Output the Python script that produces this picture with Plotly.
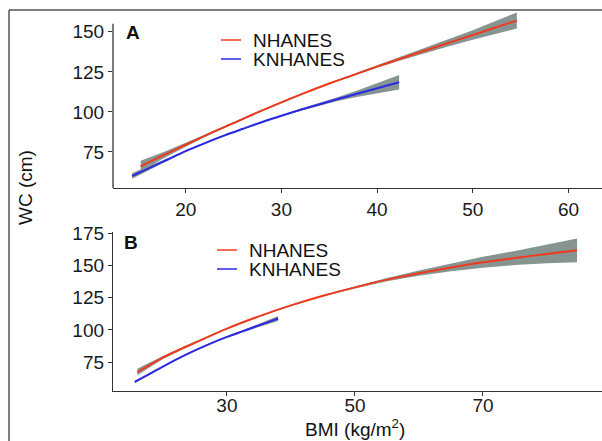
import plotly.graph_objects as go

# ---------------- data ----------------
# Panel A
bmi_a_nh = [15.3, 17.5, 20, 22.5, 25, 27.5, 30, 32.5, 35, 37.5, 40, 42.5, 45, 47.5, 50, 52.5, 54.6]
wc_a_nh = [66, 72.5, 79.5, 86.5, 93, 99.7, 106, 112, 117.7, 123, 128.3, 133.3, 138.3, 143.2, 148, 153, 157]
se_a_nh = [3.5, 2, 1.2, 0.8, 0.6, 0.5, 0.5, 0.5, 0.5, 0.6, 0.8, 1.1, 1.6, 2.2, 3, 4, 5]

bmi_a_kn = [14.4, 16, 18, 20, 22, 24, 26, 28, 30, 32, 34, 36, 38, 40, 42.3]
wc_a_kn = [60, 64.5, 70, 75.5, 80.5, 85.2, 89.5, 93.7, 97.6, 101.3, 104.8, 108.2, 111.5, 114.8, 118.5]
se_a_kn = [1.8, 1.2, 0.8, 0.6, 0.5, 0.5, 0.5, 0.5, 0.5, 0.6, 0.8, 1.2, 2, 3, 4.5]

# Panel B
bmi_b_nh = [16, 20, 25, 30, 35, 40, 45, 50, 55, 60, 65, 70, 75, 80, 84.7]
wc_b_nh = [67.2, 78.5, 90, 101, 110.5, 119, 126.5, 133, 139, 144, 148.5, 152.5, 155.8, 159, 161.8]
se_b_nh = [2.5, 1.2, 0.7, 0.5, 0.5, 0.5, 0.6, 0.8, 1.2, 2, 3, 4.2, 5.5, 7.2, 9.2]

bmi_b_kn = [15.6, 18, 20, 22.5, 25, 27.5, 30, 32.5, 35, 38]
wc_b_kn = [59.5, 66, 71.5, 78, 84, 89.5, 94.5, 99, 103.5, 108.8]
se_b_kn = [1, 0.7, 0.5, 0.5, 0.5, 0.5, 0.6, 0.8, 1.2, 2]

series_names = ["NHANES", "KNHANES"]
x_ticks_a = [20, 30, 40, 50, 60]
y_ticks_a = [75, 100, 125, 150]
x_ticks_b = [30, 50, 70]
y_ticks_b = [75, 100, 125, 150, 175]

RED = "#f03a1e"
BLUE = "#2a2ae6"
GREY = "#879592"
FONT = "Liberation Sans, Arial, sans-serif"
FS = 19

W, H = 602, 441


def px_x(p):
    return p / W


def px_y(p):
    return 1 - p / H


fig = go.Figure()


def ribbon(x, y, se, xa, ya):
    lo = [v - s for v, s in zip(y, se)]
    hi = [v + s for v, s in zip(y, se)]
    fig.add_trace(go.Scatter(
        x=list(x) + list(x)[::-1], y=hi + lo[::-1],
        fill="toself", fillcolor=GREY, line=dict(width=0),
        mode="lines", showlegend=False, hoverinfo="skip",
        xaxis=xa, yaxis=ya))


ribbon(bmi_a_nh, wc_a_nh, se_a_nh, "x", "y")
ribbon(bmi_a_kn, wc_a_kn, se_a_kn, "x", "y")
ribbon(bmi_b_nh, wc_b_nh, se_b_nh, "x2", "y2")
ribbon(bmi_b_kn, wc_b_kn, se_b_kn, "x2", "y2")


def line(x, y, name, color, xa, ya):
    fig.add_trace(go.Scatter(x=x, y=y, mode="lines", name=name,
                             line=dict(color=color, width=2, shape="spline"),
                             xaxis=xa, yaxis=ya, showlegend=False))


line(bmi_a_nh, wc_a_nh, series_names[0], RED, "x", "y")
line(bmi_a_kn, wc_a_kn, series_names[1], BLUE, "x", "y")
line(bmi_b_nh, wc_b_nh, series_names[0], RED, "x2", "y2")
line(bmi_b_kn, wc_b_kn, series_names[1], BLUE, "x2", "y2")

axis_common = dict(showgrid=False, zeroline=False, ticks="outside", ticklen=4,
                   tickwidth=1, tickcolor="#333", automargin=False,
                   tickfont=dict(family=FONT, size=FS, color="#1a1a1a"))

x_dom = [px_x(113), 1.0]
ya_top_val = 155
ya_range = [52.5, 163]
yb_range = [52.5, 176]

fig.update_layout(
    template="none",
    width=W, height=H, autosize=False,
    margin=dict(l=0, r=0, t=0, b=0, pad=0),
    paper_bgcolor="white", plot_bgcolor="white",
    font=dict(family=FONT, color="#1a1a1a"),
    showlegend=False,
    xaxis=dict(domain=x_dom, range=[12.4, 63.5], tickvals=x_ticks_a,
               showline=True, linecolor="#333", linewidth=1.3, anchor="y",
               **axis_common),
    yaxis=dict(domain=[px_y(188), px_y(11)], range=ya_range, tickvals=y_ticks_a,
               showline=False, anchor="x", **axis_common),
    xaxis2=dict(domain=x_dom, range=[12.2, 88.6], tickvals=x_ticks_b,
                showline=True, linecolor="#333", linewidth=1.3, anchor="y2",
                ticklabelstandoff=-7, **axis_common),
    yaxis2=dict(domain=[px_y(391), px_y(232)], range=yb_range, tickvals=y_ticks_b,
                showline=True, linecolor="#333", linewidth=1.3, anchor="x2",
                **axis_common),
)

# y axis line of panel A (ends at top of scale)
fig.add_shape(type="line", xref="x domain", yref="y", x0=0, x1=0,
              y0=ya_range[0], y1=ya_top_val, line=dict(color="#333", width=1.3))

# outer frame (left and top edges)
fig.add_shape(type="line", xref="paper", yref="paper", x0=px_x(9), x1=px_x(9),
              y0=px_y(10), y1=0, line=dict(color="#555", width=1.5))
fig.add_shape(type="line", xref="paper", yref="paper", x0=px_x(9), x1=1,
              y0=px_y(10), y1=px_y(10), line=dict(color="#555", width=1.5))

# legends (key line + label)
legend_specs = [
    (221, 252, 40, 59),   # panel A: key x, text x, row1 y, row2 y
    (217, 248, 250, 269),  # panel B
]
for kx, tx, y1, y2 in legend_specs:
    for name, color, yy in ((series_names[0], RED, y1), (series_names[1], BLUE, y2)):
        fig.add_shape(type="line", xref="paper", yref="paper",
                      x0=px_x(kx), x1=px_x(kx + 20), y0=px_y(yy), y1=px_y(yy),
                      line=dict(color=color, width=1.5))
        fig.add_annotation(x=px_x(tx), y=px_y(yy), xref="paper", yref="paper",
                           text=name, showarrow=False, xanchor="left", yanchor="middle",
                           height=19, borderpad=0,
                           font=dict(family=FONT, size=FS, color="#111"))

# panel letters
fig.add_annotation(x=px_x(124), y=px_y(33), xref="paper", yref="paper", text="<b>A</b>",
                   showarrow=False, xanchor="left", yanchor="middle",
                   font=dict(family=FONT, size=FS, color="#111"))
fig.add_annotation(x=px_x(122), y=px_y(242), xref="paper", yref="paper", text="<b>B</b>",
                   showarrow=False, xanchor="left", yanchor="middle",
                   font=dict(family=FONT, size=FS, color="#111"))

# axis titles
fig.add_annotation(x=px_x(25), y=px_y(188), xref="paper", yref="paper", text="WC (cm)",
                   showarrow=False, textangle=-90, xanchor="center", yanchor="middle",
                   font=dict(family=FONT, size=FS, color="#111"))
fig.add_annotation(x=px_x(355), y=px_y(428), xref="paper", yref="paper",
                   text="BMI (kg/m<sup>2</sup>)",
                   showarrow=False, xanchor="center", yanchor="middle",
                   font=dict(family=FONT, size=FS, color="#111"))

post = (
    "document.documentElement.style.margin='0';"
    "document.documentElement.style.overflow='hidden';"
    "document.body.style.margin='0';"
    "document.body.style.padding='0';"
    "document.body.style.overflow='hidden';"
    "var d=document.getElementById('{plot_id}');"
    "d.style.position='fixed';d.style.top='0px';d.style.left='0px';"
)

fig.write_html("out.html", config={"displayModeBar": False}, post_script=post)
